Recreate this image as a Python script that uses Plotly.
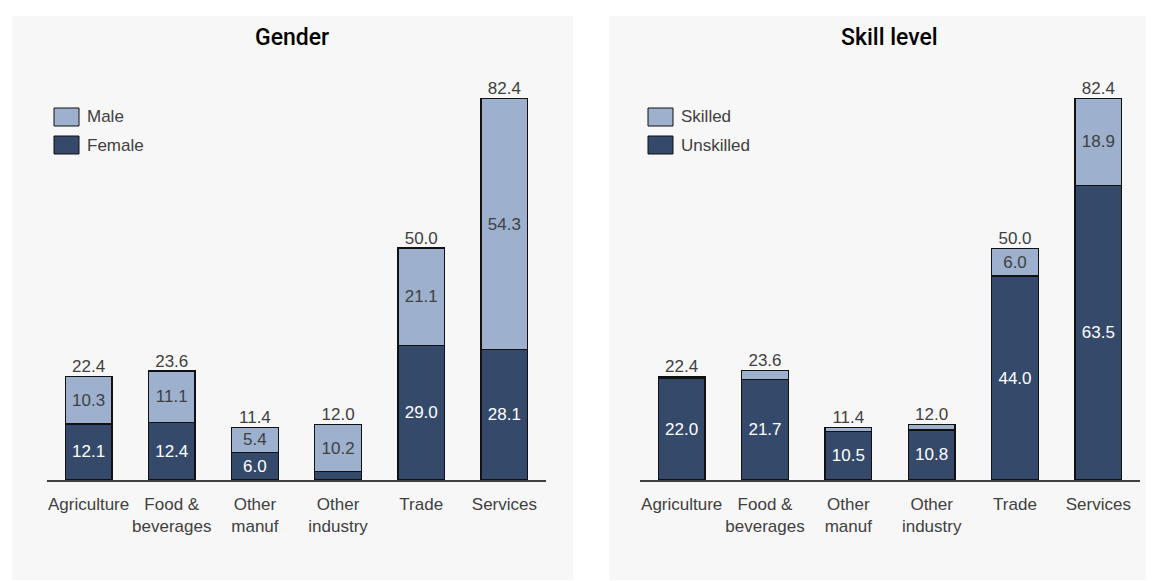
import plotly.graph_objects as go

# Sector categories shared by both panels
categories = ["Agriculture", "Food &<br>beverages", "Other<br>manuf", "Other<br>industry", "Trade", "Services"]

# Gender panel
female = [12.1, 12.4, 6.0, 1.8, 29.0, 28.1]
male = [10.3, 11.1, 5.4, 10.2, 21.1, 54.3]
gender_totals = [22.4, 23.6, 11.4, 12.0, 50.0, 82.4]

# Skill level panel
unskilled = [22.0, 21.7, 10.5, 10.8, 44.0, 63.5]
skilled = [0.4, 1.9, 0.9, 1.2, 6.0, 18.9]
skill_totals = [22.4, 23.6, 11.4, 12.0, 50.0, 82.4]

W, H = 1153, 581
LIGHT = "#9db0ce"
DARK = "#354a6b"
TXT = "#404040"
FONT = "Arial, Liberation Sans, sans-serif"
TITLE_FONT = "Roboto, Arial, sans-serif"
MIN_LABEL = 3.0  # segments smaller than this get no inside label


def px_x(p):
    return p / W


def px_y(p):
    return 1 - p / H


def seg_text(vals):
    return [f"{v:.1f}" if v >= MIN_LABEL else "" for v in vals]


fig = go.Figure()


def add_panel(xa, ya, bottom, top, totals, names):
    fig.add_trace(go.Bar(
        x=categories, y=bottom, name=names[1], xaxis=xa, yaxis=ya,
        marker=dict(color=DARK, line=dict(color="#111111", width=1.3)),
        text=seg_text(bottom), textposition="inside", insidetextanchor="middle",
        textangle=0, textfont=dict(color="white", size=17, family=FONT),
        width=0.56, showlegend=False, hoverinfo="skip"))
    fig.add_trace(go.Bar(
        x=categories, y=top, name=names[0], xaxis=xa, yaxis=ya,
        marker=dict(color=LIGHT, line=dict(color="#111111", width=1.3)),
        text=seg_text(top), textposition="inside", insidetextanchor="middle",
        textangle=0, textfont=dict(color=TXT, size=17, family=FONT),
        width=0.56, showlegend=False, hoverinfo="skip"))
    stack = [b + t for b, t in zip(bottom, top)]
    fig.add_trace(go.Scatter(
        x=categories, y=stack, xaxis=xa, yaxis=ya, mode="text",
        text=[f"{v:.1f}" for v in totals], textposition="top center",
        textfont=dict(color=TXT, size=17, family=FONT),
        showlegend=False, hoverinfo="skip", cliponaxis=False))


add_panel("x", "y", female, male, gender_totals, ["Male", "Female"])
add_panel("x2", "y2", unskilled, skilled, skill_totals, ["Skilled", "Unskilled"])

y_dom = [px_y(480), px_y(63)]
xaxis_common = dict(
    showline=True, linecolor=TXT, linewidth=1.5, showgrid=False, zeroline=False,
    ticks="", ticklabelstandoff=8, range=[-0.5, 5.5],
    tickfont=dict(color=TXT, size=17, family=FONT), fixedrange=True)
yaxis_common = dict(range=[0, 90], visible=False, showgrid=False, zeroline=False, fixedrange=True)

fig.update_layout(
    width=W, height=H, margin=dict(l=0, r=0, t=0, b=0),
    paper_bgcolor="white", plot_bgcolor="rgba(0,0,0,0)",
    barmode="stack", bargap=0.44, uniformtext=dict(minsize=17, mode="show"),
    xaxis=dict(domain=[px_x(47), px_x(546)], anchor="y", **xaxis_common),
    yaxis=dict(domain=y_dom, anchor="x", **yaxis_common),
    xaxis2=dict(domain=[px_x(640), px_x(1140)], anchor="y2", **xaxis_common),
    yaxis2=dict(domain=y_dom, anchor="x2", **yaxis_common),
)

shapes = []
annotations = []

# Panel backgrounds
for x0, x1 in [(12, 573), (609, 1146)]:
    shapes.append(dict(type="rect", xref="paper", yref="paper", layer="below",
                       x0=px_x(x0), x1=px_x(x1), y0=px_y(580), y1=px_y(16),
                       fillcolor="#f7f7f7", line=dict(width=0)))

# Panel titles
for cx, title in [(292, "Gender"), (889, "Skill level")]:
    annotations.append(dict(text=title, x=px_x(cx), y=px_y(37), xref="paper", yref="paper",
                            showarrow=False, xanchor="center", yanchor="middle",
                            font=dict(size=23, color="black", family=TITLE_FONT, weight=500)))

# Legends
for lx, labels in [(54, ["Male", "Female"]), (648, ["Skilled", "Unskilled"])]:
    for i, (lab, col) in enumerate(zip(labels, [LIGHT, DARK])):
        top = 108 + i * 28
        shapes.append(dict(type="rect", xref="paper", yref="paper",
                           x0=px_x(lx), x1=px_x(lx + 25), y0=px_y(top + 18), y1=px_y(top),
                           fillcolor=col, line=dict(color="#111111", width=1)))
        annotations.append(dict(text=lab, x=px_x(lx + 31), y=px_y(top + 9), xref="paper", yref="paper",
                                showarrow=False, xanchor="left", yanchor="middle",
                                font=dict(size=17, color=TXT, family=FONT)))

fig.update_layout(shapes=shapes, annotations=annotations)
fig.write_html("out.html")
